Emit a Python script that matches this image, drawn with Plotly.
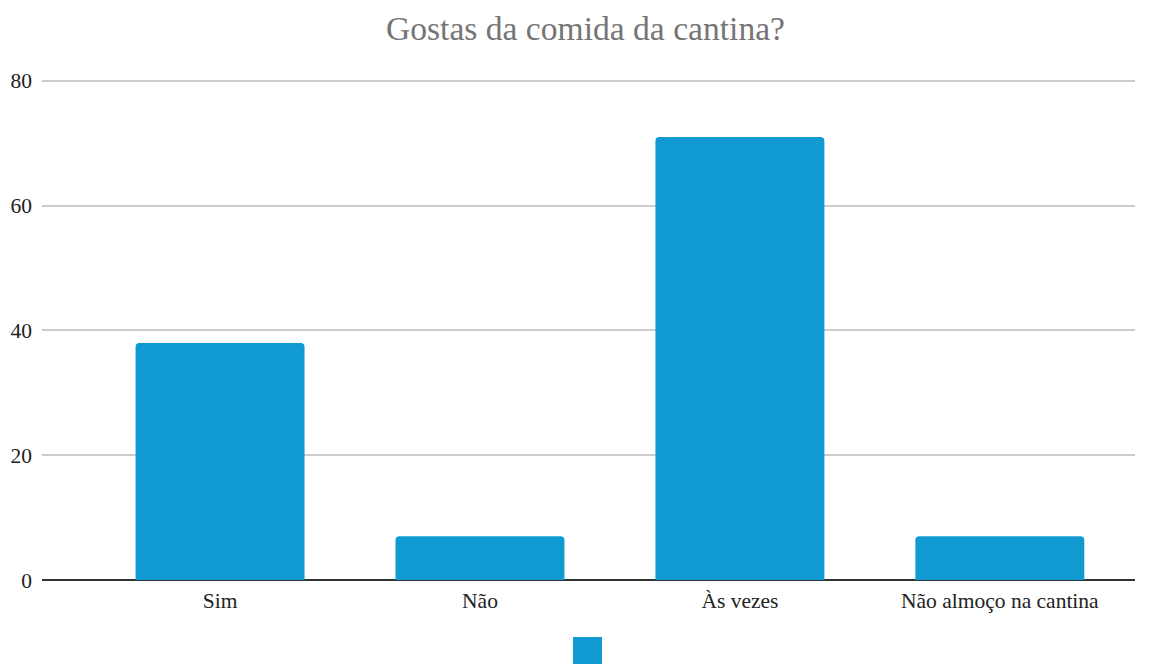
import plotly.graph_objects as go

categories = ["Sim", "Não", "Às vezes", "Não almoço na cantina"]
values = [38, 7, 71, 7]
y_ticks = [0, 20, 40, 60, 80]

BAR_COLOR = "#119ad1"
FONT = "Liberation Serif"

fig = go.Figure()
fig.add_trace(go.Bar(
    x=categories,
    y=values,
    marker=dict(color=BAR_COLOR, cornerradius=4, line=dict(width=0)),
    width=0.65,
    showlegend=False,
))

fig.update_layout(
    width=1155,
    height=656,
    paper_bgcolor="white",
    plot_bgcolor="white",
    margin=dict(l=34, r=28, t=71, b=84),
    title=dict(
        text="Gostas da comida da cantina?",
        x=0.5 - 3 / 1093,
        xref="paper",
        xanchor="center",
        y=1 - 20 / 656,
        yref="container",
        yanchor="middle",
        font=dict(family=FONT, size=33.6, color="#757575"),
    ),
    font=dict(family=FONT, size=21.5, color="#222222"),
    shapes=[
        dict(
            type="rect",
            xref="paper", yref="paper",
            xsizemode="pixel", ysizemode="pixel",
            xanchor=0.5, yanchor=0,
            x0=-15.5, x1=13.5, y0=-90, y1=-57,
            fillcolor=BAR_COLOR, line=dict(width=0),
        )
    ],
)

fig.update_xaxes(
    range=[-0.685, 3.52],
    showgrid=False,
    showline=False,
    ticks="",
    automargin=False,
    ticklabelstandoff=5,
    tickfont=dict(family=FONT, size=21.5, color="#222222"),
)
fig.update_yaxes(
    range=[0, 80.3],
    tickvals=y_ticks,
    showgrid=True,
    gridcolor="#cccccc",
    gridwidth=2,
    zeroline=True,
    zerolinecolor="#333333",
    zerolinewidth=2,
    showline=False,
    ticks="",
    automargin=False,
    ticklabelstandoff=9,
    tickfont=dict(family=FONT, size=21.5, color="#222222"),
)

fig.write_html("out.html")
